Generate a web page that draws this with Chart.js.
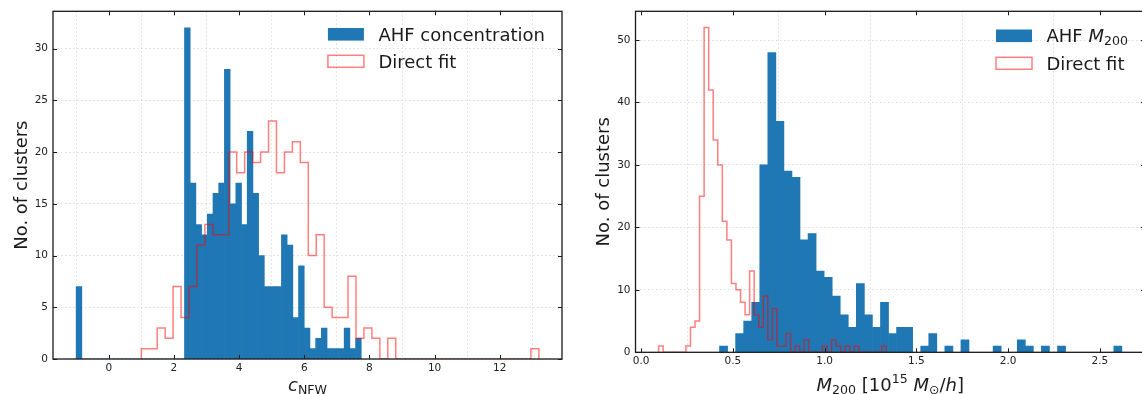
<!DOCTYPE html>
<html>
<head>
<meta charset="utf-8">
<script src="https://cdn.jsdelivr.net/npm/chart.js@4.4.1/dist/chart.umd.min.js"></script>
<style>
  html, body { margin: 0; padding: 0; background: #fff; overflow: hidden; }
  body { width: 1142px; height: 394px; position: relative; }
  .panel { position: absolute; top: 0; height: 394px; }
  #left-panel { left: 0; width: 575px; }
  #right-panel { left: 580px; width: 580px; }
</style>
</head>
<body>
<div class="panel" id="left-panel"><canvas id="conc-chart" width="575" height="394"></canvas></div>
<div class="panel" id="right-panel"><canvas id="mass-chart" width="580" height="394"></canvas></div>
<script>
// Histogram data (50 bins per series, counts)
const nBins = 50;

const concAhfRange = [-1.0, 7.75];
const concAhfCounts = [
  7, 0, 0, 0, 0, 0, 0, 0, 0, 0, 0, 0, 0, 0, 0, 0, 0, 0, 0,
  32, 17, 13, 12, 14, 16, 17, 28, 15, 17, 13, 22, 16, 10, 7, 7, 7, 12, 11, 4,
  9, 3, 1, 2, 3, 1, 1, 1, 3, 1, 2,
];
const concFitRange = [1.0, 13.2];
const concFitCounts = [
  1, 1, 3, 2, 7, 4, 7, 11, 13, 12, 12, 20, 18, 20, 19, 20, 23, 18, 20, 21,
  19, 10, 12, 5, 4, 4, 8, 2, 3, 2, 0, 2, 0, 0, 0, 0, 0, 0, 0, 0,
  0, 0, 0, 0, 0, 0, 0, 0, 0, 1,
];

const massAhfRange = [0.427, 2.62];
const massAhfCounts = [
  1, 0, 3, 5, 8, 30, 48, 37, 29, 28, 18, 19, 13, 12, 9, 6, 4, 11, 6, 4,
  8, 3, 4, 4, 0, 1, 3, 0, 1, 0, 2, 0, 0, 0, 1, 0, 0, 2, 1, 0,
  1, 0, 1, 0, 0, 0, 0, 0, 0, 1,
];
const massFitRange = [0.095, 1.335];
const massFitCounts = [
  1, 0, 0, 0, 0, 0, 1, 4, 5, 25, 52, 42, 34, 30, 21, 18, 11, 10, 8, 6,
  13, 6, 4, 9, 2, 7, 1, 1, 3, 0, 1, 0, 2, 0, 0, 0, 1, 0, 2, 1,
  0, 1, 0, 1, 0, 0, 0, 0, 0, 1,
];

// Axis limits and ticks
const concXLimits = [-1.71, 13.91];
const concXStep = 2;
const concYMax = 33.6;
const concYStep = 5;
const massXLimits = [-0.031, 2.746];
const massXStep = 0.5;
const massYMax = 54.6;
const massYStep = 10;

const yTitle = "No. of clusters";
const legendFit = "Direct fit";

// Styling
const BLUE = "#1f77b4";
const RED = "rgba(255, 0, 0, 0.5)";
const INK = "#1a1a1a";
const FAMILY = '"DejaVu Sans"';

const font = (size, italic) => `${italic ? "italic " : ""}${size}px ${FAMILY}`;

const binEdges = (range) => {
  const w = (range[1] - range[0]) / nBins;
  return Array.from({ length: nBins + 1 }, (_, i) => range[0] + i * w);
};

const barPoints = (range, counts) => {
  const e = binEdges(range);
  return counts.map((c, i) => ({ x: (e[i] + e[i + 1]) / 2, y: c }));
};

const stepPoints = (range, counts) => {
  const e = binEdges(range);
  const pts = [{ x: e[0], y: 0 }];
  counts.forEach((c, i) => pts.push({ x: e[i], y: c }));
  pts.push({ x: e[nBins], y: 0 });
  return pts;
};

const runsWidth = (ctx, runs) =>
  runs.reduce((w, r) => {
    ctx.font = font(r.size, r.italic);
    return w + ctx.measureText(r.text).width;
  }, 0);

const drawRuns = (ctx, runs, x, y) => {
  runs.forEach((r) => {
    ctx.font = font(r.size, r.italic);
    ctx.fillText(r.text, x, y + (r.dy || 0));
    x += ctx.measureText(r.text).width;
  });
};

// Frame, inward ticks, axis titles and legend
const decorPlugin = (cfg) => ({
  id: "decor",
  afterDatasetsDraw(chart) {
    const { ctx, chartArea: a, scales } = chart;
    ctx.save();
    ctx.strokeStyle = INK;
    ctx.lineWidth = 1;
    ctx.beginPath();
    scales.x.ticks.forEach((t) => {
      const px = Math.round(scales.x.getPixelForValue(t.value)) + 0.5;
      ctx.moveTo(px, a.bottom);
      ctx.lineTo(px, a.bottom - 4);
      ctx.moveTo(px, a.top);
      ctx.lineTo(px, a.top + 4);
    });
    scales.y.ticks.forEach((t) => {
      const py = Math.round(scales.y.getPixelForValue(t.value)) + 0.5;
      ctx.moveTo(a.left, py);
      ctx.lineTo(a.left + 4, py);
      ctx.moveTo(a.right, py);
      ctx.lineTo(a.right - 4, py);
    });
    ctx.stroke();
    ctx.lineWidth = 1.3;
    ctx.strokeRect(a.left, a.top, a.right - a.left, a.bottom - a.top);
    ctx.restore();
  },
  afterDraw(chart) {
    const { ctx, chartArea: a } = chart;
    ctx.save();
    ctx.fillStyle = INK;
    ctx.textBaseline = "alphabetic";

    // x title
    const xw = runsWidth(ctx, cfg.xTitle);
    drawRuns(ctx, cfg.xTitle, (a.left + a.right) / 2 - xw / 2, 390.5);

    // y title
    ctx.save();
    ctx.translate(a.left - 26.5, (a.top + a.bottom) / 2);
    ctx.rotate(-Math.PI / 2);
    ctx.font = font(18);
    ctx.textAlign = "center";
    ctx.fillText(yTitle, 0, 0);
    ctx.restore();

    // legend
    const maxW = Math.max(...cfg.legend.map((l) => runsWidth(ctx, l.runs)));
    const textX = a.right - 17 - maxW;
    const handleX = textX - 14.5 - 36;
    cfg.legend.forEach((l, i) => {
      const cy = a.top + cfg.legendRows[i];
      if (l.kind === "fill") {
        ctx.fillStyle = BLUE;
        ctx.fillRect(handleX, cy - 6.3, 36, 12.6);
      } else {
        ctx.strokeStyle = RED;
        ctx.lineWidth = 1.5;
        ctx.strokeRect(handleX, cy - 6, 36, 12);
      }
      ctx.fillStyle = INK;
      drawRuns(ctx, l.runs, textX, cy + 6.5);
    });
    ctx.restore();
  },
});

const makeChart = (canvasId, opts) => {
  const ctx = document.getElementById(canvasId).getContext("2d");
  return new Chart(ctx, {
    type: "bar",
    data: {
      datasets: [
        {
          type: "line",
          data: stepPoints(opts.fitRange, opts.fitCounts),
          borderColor: RED,
          borderWidth: 1.5,
          stepped: true,
          pointRadius: 0,
          fill: false,
          order: 0,
        },
        {
          type: "bar",
          data: barPoints(opts.ahfRange, opts.ahfCounts),
          backgroundColor: BLUE,
          borderWidth: 0,
          barPercentage: 1,
          categoryPercentage: 1,
          order: 1,
        },
      ],
    },
    options: {
      responsive: false,
      animation: false,
      layout: { padding: opts.padding },
      plugins: { legend: { display: false }, tooltip: { enabled: false } },
      scales: {
        x: {
          type: "linear",
          offset: false,
          min: opts.xLimits[0],
          max: opts.xLimits[1],
          afterFit: (s) => { s.height = opts.xHeight; },
          grid: { color: "#d4d4d4", lineWidth: 0.8, drawTicks: false },
          border: { display: false, dash: [1.5, 2.5] },
          ticks: {
            stepSize: opts.xStep,
            includeBounds: false,
            padding: 3,
            color: "#222",
            font: { family: "DejaVu Sans", size: 10.5 },
            maxRotation: 0,
            callback: opts.xFormat,
          },
        },
        y: {
          min: 0,
          max: opts.yMax,
          afterFit: (s) => { s.width = opts.yWidth; },
          grid: { color: "#d4d4d4", lineWidth: 0.8, drawTicks: false },
          border: { display: false, dash: [1.5, 2.5] },
          ticks: {
            stepSize: opts.yStep,
            includeBounds: false,
            padding: 5,
            color: "#222",
            font: { family: "DejaVu Sans", size: 10.5 },
          },
        },
      },
    },
    plugins: [decorPlugin(opts.decor)],
  });
};

makeChart("conc-chart", {
  ahfRange: concAhfRange,
  ahfCounts: concAhfCounts,
  fitRange: concFitRange,
  fitCounts: concFitCounts,
  xLimits: concXLimits,
  xStep: concXStep,
  yMax: concYMax,
  yStep: concYStep,
  xFormat: (v) => String(v),
  padding: { left: 0, right: 13, top: 10, bottom: 0 },
  yWidth: 53,
  xHeight: 35,
  decor: {
    xTitle: [
      { text: "c", size: 18, italic: true },
      { text: "NFW", size: 12.6, dy: 3.5 },
    ],
    legend: [
      { kind: "fill", runs: [{ text: "AHF concentration", size: 18 }] },
      { kind: "step", runs: [{ text: legendFit, size: 18 }] },
    ],
    legendRows: [23, 50],
  },
});

makeChart("mass-chart", {
  ahfRange: massAhfRange,
  ahfCounts: massAhfCounts,
  fitRange: massFitRange,
  fitCounts: massFitCounts,
  xLimits: massXLimits,
  xStep: massXStep,
  yMax: massYMax,
  yStep: massYStep,
  xFormat: (v) => v.toFixed(1),
  padding: { left: 0, right: 15, top: 10, bottom: 0 },
  yWidth: 55.5,
  xHeight: 41.7,
  decor: {
    xTitle: [
      { text: "M", size: 18, italic: true },
      { text: "200", size: 12.6, dy: 3 },
      { text: " [10", size: 18 },
      { text: "15", size: 12.6, dy: -7.5 },
      { text: " ", size: 18 },
      { text: "M", size: 18, italic: true },
      { text: "\u2299", size: 12.6, dy: 3 },
      { text: "/", size: 18 },
      { text: "h", size: 18, italic: true },
      { text: "]", size: 18 },
    ],
    legend: [
      {
        kind: "fill",
        runs: [
          { text: "AHF ", size: 18 },
          { text: "M", size: 18, italic: true },
          { text: "200", size: 12.6, dy: 3 },
        ],
      },
      { kind: "step", runs: [{ text: legendFit, size: 18 }] },
    ],
    legendRows: [24.5, 52],
  },
});
</script>
</body>
</html>
